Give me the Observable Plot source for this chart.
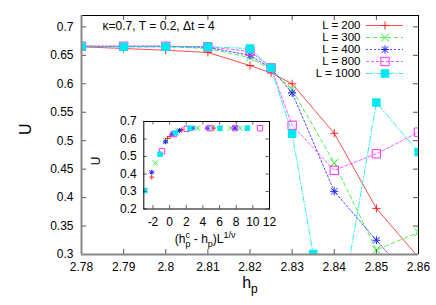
<!DOCTYPE html>
<html><head><meta charset="utf-8">
<script src="https://cdn.jsdelivr.net/npm/d3@7"></script>
<script src="https://cdn.jsdelivr.net/npm/@observablehq/plot@0.6"></script>
<style>
body{margin:0;background:#fff;}
#wrap{position:relative;width:436px;height:305px;overflow:hidden;}
#wrap svg{position:absolute;overflow:visible;}
</style></head><body><div id="wrap"></div>
<script>
// ---- main data ----
const hp = [2.78, 2.79, 2.80, 2.81, 2.82, 2.825, 2.83, 2.84, 2.85, 2.86];
const U200 = [0.665, 0.662, 0.659, 0.655, 0.632, 0.619, 0.600, 0.513, 0.381, 0.295];
const U300 = [0.666, 0.665, 0.665, 0.662, 0.646, 0.625, 0.590, 0.461, 0.308, 0.339];
const U400 = [0.666, 0.666, 0.666, 0.664, 0.650, 0.627, 0.584, 0.411, 0.325, 0.242];
const U800 = [0.666, 0.666, 0.666, 0.665, 0.657, 0.628, 0.527, 0.448, 0.477, 0.515];
const hp1000 = [2.78, 2.79, 2.80, 2.81, 2.82, 2.825, 2.83, 2.835, 2.84, 2.85, 2.86];
const U1000 = [0.666, 0.665, 0.665, 0.665, 0.662, 0.628, 0.512, 0.301, 0.136, 0.567, 0.480];

// ---- inset data (scaled variable, U) ----
const i200x = [-2.15, -1.15, -0.26, 0.05, 0.6, 1.49, 5.3];
const i200y = [0.382, 0.513, 0.603, 0.614, 0.632, 0.653, 0.662];
const i300x = [-1.70, -0.45, 0.35, 1.0, 3.34, 5.1, 7.33, 8.5];
const i300y = [0.464, 0.590, 0.625, 0.646, 0.662, 0.662, 0.662, 0.662];
const i400x = [-2.15, -0.50, 0.29, 1.18, 2.77, 4.54, 7.85, 9.34];
const i400y = [0.410, 0.584, 0.627, 0.649, 0.662, 0.662, 0.662, 0.662];
const i800x = [-0.91, 0.5, 2.05, 4.85, 7.85, 10.85];
const i800y = [0.530, 0.628, 0.658, 0.662, 0.662, 0.662];
const i1000x = [-3.0, -1.15, 0.70, 2.45, 6.05, 9.34];
const i1000y = [0.306, 0.513, 0.635, 0.662, 0.662, 0.662];

const labels = ["L = 200", "L = 300", "L = 400", "L = 800", "L = 1000"];
const colors = ["#ff2020", "#20f020", "#2020ff", "#ff30ff", "#00e8f0"];
const dashes = [null, "4,3", "2,2", "3,2", "6,2,1,2"];
const xTicks = [2.78, 2.79, 2.80, 2.81, 2.82, 2.83, 2.84, 2.85, 2.86];
const yTicks = [0.3, 0.35, 0.4, 0.45, 0.5, 0.55, 0.6, 0.65, 0.7];
const ixTicks = [-2, 0, 2, 4, 6, 8, 10, 12];
const iyTicks = [0.2, 0.3, 0.4, 0.5, 0.6, 0.7];
const title = "κ=0.7, T = 0.2, Δt = 4";

const font = "'Liberation Sans', Arial, Helvetica, sans-serif";
const rows = (xs, ys) => xs.map((x, i) => ({x, y: ys[i]}));
const mainData = [rows(hp, U200), rows(hp, U300), rows(hp, U400), rows(hp, U800), rows(hp1000, U1000)];
const insetData = [rows(i200x, i200y), rows(i300x, i300y), rows(i400x, i400y), rows(i800x, i800y), rows(i1000x, i1000y)];

// marker specs per series: [symbol, rFactor, filled]
const markers = [
  [["plus", 1.0, false]],
  [["times", 1.38, false]],
  [["plus", 1.0, false], ["times", 1.13, false]],
  [["square", 1.75, false]],
  [["square", 1.78, true]]
];
function dots(data, i, base, opts = {}) {
  return markers[i].map(([sym, f, filled]) => Plot.dot(data, {
    x: "x", y: "y", ...opts, symbol: sym, r: base * f,
    stroke: filled ? "none" : colors[i], fill: filled ? colors[i] : "none", strokeWidth: 1
  }));
}

const W = 436, H = 305, mL = 81, mR = 18, mT = 15, mB = 51;
const fw = W - mL - mR, fh = H - mT - mB;

const main = Plot.plot({
  width: W, height: H, marginLeft: mL, marginRight: mR, marginTop: mT, marginBottom: mB,
  style: {fontFamily: font, fontSize: "12px", background: "transparent", color: "#000"},
  x: {domain: [2.78, 2.86]},
  y: {domain: [0.3, 0.72]},
  marks: [
    ...mainData.flatMap((d, i) => [
      Plot.line(d, {x: "x", y: "y", stroke: colors[i], strokeWidth: 0.8, strokeDasharray: dashes[i], clip: true}),
      ...dots(d, i, 2.7, {clip: true})
    ]),
    Plot.ruleX(xTicks, {insetTop: fh - 5, stroke: "#555"}),
    Plot.ruleX(xTicks, {insetBottom: fh - 5, stroke: "#555"}),
    Plot.ruleY(yTicks, {insetRight: fw - 5, stroke: "#555"}),
    Plot.ruleY(yTicks, {insetLeft: fw - 5, stroke: "#555"}),
    Plot.ruleY([0.72], {stroke: "#000"}),
    Plot.ruleX([2.86], {stroke: "#000"}),
    Plot.ruleX([2.78], {stroke: "#888", strokeWidth: 2}),
    Plot.ruleY([0.3], {stroke: "#888", strokeWidth: 2}),
    Plot.axisX({ticks: xTicks, tickSize: 0, tickPadding: 8, tickFormat: d3.format(".2~f"), label: null}),
    Plot.axisY({ticks: yTicks, tickSize: 0, tickPadding: 8, tickFormat: d3.format(".2~f"), label: null}),
    Plot.text([title], {text: d => d, frameAnchor: "left", lineAnchor: "middle", textAnchor: "start", dx: 21, dy: 11 - fh / 2, fontSize: 12}),
    Plot.text(["U"], {text: d => d, frameAnchor: "left", lineAnchor: "middle", dx: -56, rotate: -90, fontSize: 16}),
    Plot.text(["h_p"], {text: d => d, frameAnchor: "bottom", lineAnchor: "middle", dy: 28, fontSize: 16})
  ]
});

// legend (own small plot with its own scales)
const legend = Plot.plot({
  width: 120, height: 70, marginLeft: 66, marginRight: 17, marginTop: 8.5, marginBottom: 11,
  style: {fontFamily: font, fontSize: "11px", background: "transparent", color: "#000"},
  x: {domain: [0, 1], axis: null},
  y: {domain: labels, type: "point", padding: 0, axis: null},
  marks: labels.flatMap((lab, i) => [
    Plot.ruleY([lab], {y: d => d, x1: 0, x2: 1, stroke: colors[i], strokeWidth: 0.8, strokeDasharray: dashes[i]}),
    ...markers[i].map(([sym, f, filled]) => Plot.dot([lab], {x: 0.5, y: d => d, symbol: sym, r: 2.7 * f,
      stroke: filled ? "none" : colors[i], fill: filled ? colors[i] : "none", strokeWidth: 1})),
    Plot.text([lab], {x: 0, y: d => d, text: d => d, textAnchor: "end", lineAnchor: "middle", dx: -6, fontSize: 11.5})
  ])
});

// inset
const IW = 210, IH = 140, imL = 73.3, imR = 11, imT = 11, imB = 41.5;
const ifw = IW - imL - imR, ifh = IH - imT - imB;
const inset = Plot.plot({
  width: IW, height: IH, marginLeft: imL, marginRight: imR, marginTop: imT, marginBottom: imB,
  style: {fontFamily: font, fontSize: "12px", background: "transparent", color: "#000"},
  x: {domain: [-3.1, 12]},
  y: {domain: [0.2, 0.7]},
  marks: [
    ...insetData.flatMap((d, i) => dots(d, i, 1.74, {clip: true})),
    Plot.ruleX(ixTicks, {insetTop: ifh - 3.5, stroke: "#666"}),
    Plot.ruleX(ixTicks, {insetBottom: ifh - 3.5, stroke: "#666"}),
    Plot.ruleY(iyTicks, {insetRight: ifw - 3.5, stroke: "#666"}),
    Plot.ruleY(iyTicks, {insetLeft: ifw - 3.5, stroke: "#666"}),
    Plot.frame({stroke: "#000", strokeWidth: 1}),
    Plot.axisX({ticks: ixTicks, tickSize: 0, tickPadding: 8, tickFormat: d => String(d), label: null}),
    Plot.axisY({ticks: iyTicks, tickSize: 0, tickPadding: 7, tickFormat: d3.format(".1f"), label: null}),
    Plot.text(["U"], {text: d => d, frameAnchor: "left", lineAnchor: "middle", dx: -48, rotate: -90, fontSize: 12}),
    Plot.text(["XLAB"], {text: d => d, frameAnchor: "bottom", lineAnchor: "middle", dx: -1.5, dy: 30, fontSize: 12})
  ]
});

function rich(svg, key, parts) {
  svg.querySelectorAll("text").forEach(t => {
    if (t.textContent === key) {
      const target = t.querySelector("tspan") || t;
      target.textContent = "";
      for (const p of parts) {
        const ts = document.createElementNS("http://www.w3.org/2000/svg", "tspan");
        ts.textContent = p.t;
        if (p.dx) ts.setAttribute("dx", p.dx);
        if (p.dy) ts.setAttribute("dy", p.dy);
        if (p.fs) ts.setAttribute("font-size", p.fs);
        target.appendChild(ts);
      }
    }
  });
}
rich(main, "h_p", [{t: "h"}, {t: "p", dy: "5", fs: "12"}]);
rich(inset, "XLAB", [
  {t: "(h"}, {t: "c", dy: "-5", fs: "9"}, {t: "p", dx: "-4.5", dy: "9", fs: "9"},
  {t: " - h", dy: "-4"}, {t: "p", dy: "4", fs: "9"}, {t: ")L", dy: "-4"}, {t: "1/ν", dy: "-5", fs: "9"}
]);

const wrap = document.getElementById("wrap");
main.style.left = "0px"; main.style.top = "0px";
legend.style.left = "300px"; legend.style.top = "15px";
inset.style.left = "70px"; inset.style.top = "110px";
wrap.append(main, inset, legend);
</script></body></html>
